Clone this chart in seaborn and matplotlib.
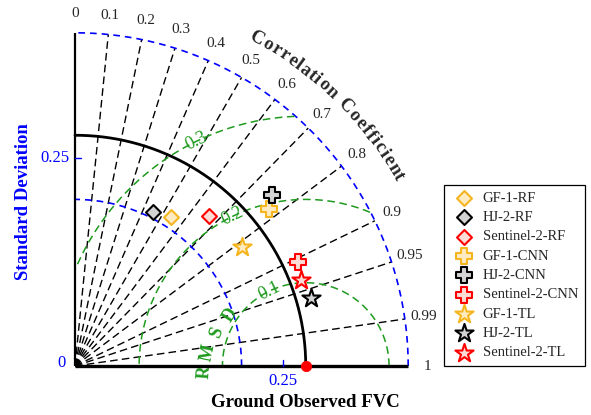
import numpy as np
import pandas as pd
import matplotlib
matplotlib.use('Agg')
import matplotlib.pyplot as plt
import seaborn as sns

# ---------------- data ----------------
models = ['GF-1-RF', 'HJ-2-RF', 'Sentinel-2-RF',
          'GF-1-CNN', 'HJ-2-CNN', 'Sentinel-2-CNN',
          'GF-1-TL', 'HJ-2-TL', 'Sentinel-2-TL']
std_dev = [0.213, 0.207, 0.2415, 0.300, 0.3126, 0.2957, 0.2467, 0.2944, 0.2908]
corr = [0.540, 0.454, 0.667, 0.777, 0.755, 0.906, 0.815, 0.961, 0.935]
ref_std = 0.277
corr_ticks = [0, 0.1, 0.2, 0.3, 0.4, 0.5, 0.6, 0.7, 0.8, 0.9, 0.95, 0.99, 1]
corr_tick_labels = ['0', '0.1', '0.2', '0.3', '0.4', '0.5', '0.6', '0.7',
                    '0.8', '0.9', '0.95', '0.99', '1']
std_arcs = [0.2, 0.4]
std_ticks = [0.25]
std_tick_labels = ['0.25']
rmsd_levels = [0.1, 0.2, 0.3]
rmsd_labels = ['0.1', '0.2', '0.3']

# styles
ORANGE, BLACK, RED = '#F5B51F', '#000000', '#FF0000'
edge_cols = [ORANGE, BLACK, RED] * 3
face_cols = ['#FFEBC2', '#D3D3D3', '#FDDCD5'] * 3
markers = ['D'] * 3 + ['P'] * 3 + ['*'] * 3
sizes = [58] * 3 + [120] * 3 + [190] * 3
GREEN = '#1E9B1E'

sns.set_style('white')
plt.rcParams['font.family'] = ['Liberation Serif', 'DejaVu Serif']

W, H = 591, 415
fig = plt.figure(figsize=(W / 100, H / 100), dpi=100)
ax = fig.add_axes([0, 0, 1, 1])
S = 833.0  # px per unit
ox, oy = 75, 366
ax.set_xlim(-ox / S, (W - ox) / S)
ax.set_ylim(-(H - oy) / S, oy / S)
ax.axis('off')

rmax = 0.4
th = np.linspace(0, np.pi / 2, 400)

# std arcs (blue dashed)
for r in std_arcs:
    ax.plot(r * np.cos(th), r * np.sin(th), color='blue', ls=(0, (4, 3)), lw=1.2, zorder=2)

# correlation lines
for c in corr_ticks[1:-1]:
    a = np.arccos(c)
    ax.plot([0, rmax * np.cos(a)], [0, rmax * np.sin(a)], color='k',
            ls=(0, (5.5, 3)), lw=1.0, zorder=1)

# RMSD arcs
phi = np.linspace(0, np.pi, 600)
for lev, lab in zip(rmsd_levels, rmsd_labels):
    x = ref_std + lev * np.cos(phi)
    y = lev * np.sin(phi)
    ok = (x ** 2 + y ** 2 <= rmax ** 2) & (x >= 0)
    ax.plot(np.where(ok, x, np.nan), np.where(ok, y, np.nan), color=GREEN,
            ls=(0, (5, 3)), lw=1.1, zorder=2)
    ang = np.deg2rad(116)
    ax.text(ref_std + lev * np.cos(ang), lev * np.sin(ang), lab, color=GREEN,
            fontsize=13, rotation=26, ha='center', va='center', rotation_mode='anchor', zorder=3)

# reference std arc (solid black)
ax.plot(ref_std * np.cos(th), ref_std * np.sin(th), color='k', lw=2.0, zorder=3)

# axes lines
ax.plot([0, rmax], [0, 0], color='k', lw=2.4, zorder=4, solid_capstyle='butt')
ax.plot([0, 0], [0, rmax], color='k', lw=1.6, zorder=4, solid_capstyle='butt')

# std ticks (blue)
for t, lab in zip(std_ticks, std_tick_labels):
    ax.plot([0, 0.007], [t, t], color='blue', lw=1.0, zorder=4)
    ax.text(-0.007, t, lab, color='blue', fontsize=12, ha='right', va='center')
    ax.plot([t, t], [0, 0.007], color='blue', lw=1.0, zorder=4)
    ax.text(t, -0.009, lab, color='blue', fontsize=12, ha='center', va='top')
ax.text(-0.011, 0.004, '0', color='blue', fontsize=12, ha='right', va='center')

# correlation tick labels
for c, lab in zip(corr_ticks, corr_tick_labels):
    a = np.arccos(c)
    ax.text(0.423 * np.cos(a), 0.423 * np.sin(a), lab, fontsize=11,
            ha='center', va='center')

# curved title "Correlation Coefficient"
wtab = {'C': .722, 'o': .5, 'r': .444, 'e': .444, 'l': .278, 'a': .5, 't': .333,
        'i': .278, 'n': .556, ' ': .25, 'f': .333, 'c': .444}
chars = list('Correlation Coefficient')
widths = np.array([wtab[ch] for ch in chars])
cum = np.cumsum(widths) - widths / 2
frac = (cum - cum[0]) / (cum[-1] - cum[0])
a0, a1 = np.deg2rad(61.1), np.deg2rad(30.3)
angs = a0 + frac * (a1 - a0)
r_t = 0.450
for ch, a in zip(chars, angs):
    if ch == ' ':
        continue
    ax.text(r_t * np.cos(a), r_t * np.sin(a), ch, rotation=np.rad2deg(a) - 90,
            ha='center', va='center', rotation_mode='anchor', fontsize=13.5,
            fontweight='bold')

# RMSD label
for ch, (xx, yy), rot in zip('RMSD', [(0.156, -0.008), (0.160, 0.016), (0.170, 0.040), (0.186, 0.061)],
                             [86, 78, 68, 58]):
    ax.text(xx, yy, ch, color=GREEN, fontsize=13, fontweight='bold', rotation=rot,
            ha='center', va='center', rotation_mode='anchor')

# axis labels
ax.text(-52 / S, 0.197, 'Standard Deviation', color='blue', fontsize=13.5,
        fontweight='bold', rotation=90, ha='center', va='center')
ax.text(0.277, -0.0435, 'Ground Observed FVC', color='k', fontsize=13.5,
        fontweight='bold', ha='center', va='center')

# model points
sd = np.array(std_dev)
cc = np.array(corr)
df = pd.DataFrame({'model': models, 'x': sd * cc, 'y': sd * np.sqrt(1 - cc ** 2)})
for i, m in enumerate(models):
    sns.scatterplot(data=df[df.model == m], x='x', y='y', marker=markers[i], s=sizes[i],
                    color=face_cols[i], edgecolor=edge_cols[i], linewidth=1.5,
                    ax=ax, label=m, zorder=6)

# reference point
sns.scatterplot(x=[ref_std], y=[0], color='red', edgecolor='red', s=55, ax=ax,
                zorder=7, clip_on=False, legend=False)

ax.set_xlim(-ox / S, (W - ox) / S)
ax.set_ylim(-(H - oy) / S, oy / S)
ax.axis('off')

handles, labels = ax.get_legend_handles_labels()
leg = ax.legend(handles[:9], labels[:9], loc='upper left',
                bbox_to_anchor=(444 / W, 1 - 185 / H), bbox_transform=fig.transFigure,
                borderaxespad=0, fontsize=10.5, frameon=True, fancybox=False,
                edgecolor='k', framealpha=1, labelspacing=0.42, handletextpad=0.4,
                handlelength=1.8, borderpad=0.45)
leg.get_frame().set_linewidth(0.9)

fig.savefig('out.png', dpi=100)
